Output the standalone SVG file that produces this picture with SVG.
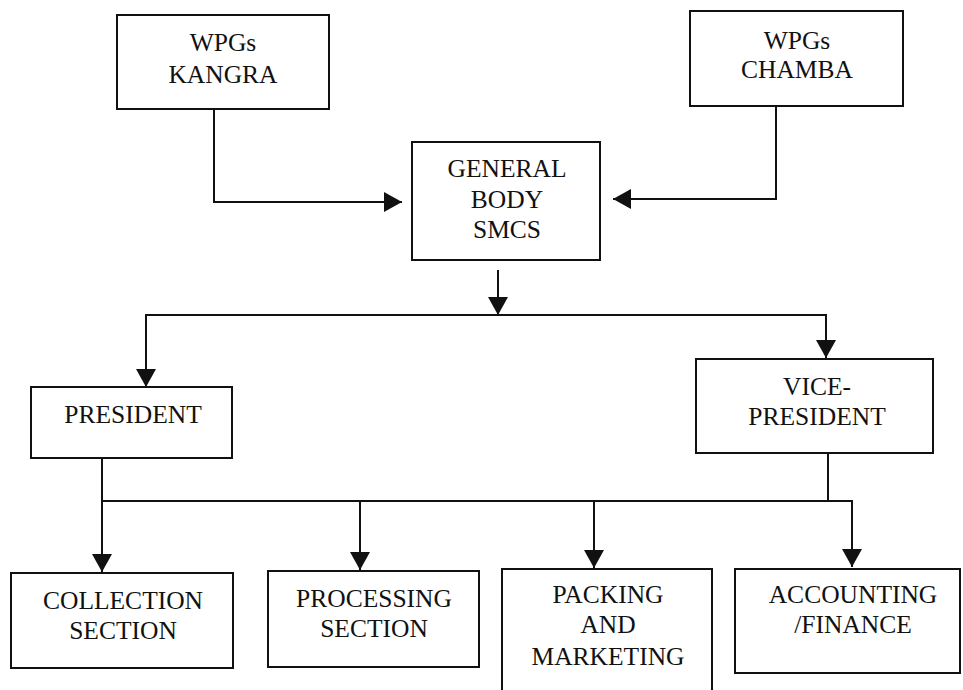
<svg xmlns="http://www.w3.org/2000/svg" width="963" height="690" viewBox="0 0 963 690">
<style>
.box{fill:#fff;stroke:#111;stroke-width:2}
.lbl{font-family:"Liberation Serif","Times New Roman",serif;font-size:25.5px;fill:#111;text-anchor:middle}
.con{fill:none;stroke:#111;stroke-width:2}
</style>
<defs>
<marker id="ah" markerUnits="userSpaceOnUse" markerWidth="18" markerHeight="20" refX="18" refY="10" orient="auto" viewBox="0 0 18 20">
<path d="M0,0 L18,10 L0,20 Z" fill="#111"/>
</marker>
</defs>
<rect width="963" height="690" fill="#fff"/>
<g id="connectors">
<path class="con" d="M214,109 V202 H402" marker-end="url(#ah)"/>
<path class="con" d="M776,106 V199 H613" marker-end="url(#ah)"/>
<path class="con" d="M498,270 V315" marker-end="url(#ah)"/>
<path class="con" d="M498,315 H146 V387" marker-end="url(#ah)"/>
<path class="con" d="M498,315 H826 V358" marker-end="url(#ah)"/>
<path class="con" d="M102,458 V572" marker-end="url(#ah)"/>
<path class="con" d="M102,501 H852 V567" marker-end="url(#ah)"/>
<path class="con" d="M828,453 V501"/>
<path class="con" d="M360,501 V570" marker-end="url(#ah)"/>
<path class="con" d="M594,501 V568" marker-end="url(#ah)"/>
</g>
<g id="kangra">
<rect class="box" x="117" y="15" width="212" height="94"/>
<text class="lbl" x="223" y="51">WPGs</text>
<text class="lbl" x="223" y="83">KANGRA</text>
</g>
<g id="chamba">
<rect class="box" x="690" y="11" width="213" height="95"/>
<text class="lbl" x="797" y="49">WPGs</text>
<text class="lbl" x="797" y="78">CHAMBA</text>
</g>
<g id="general-body">
<rect class="box" x="412" y="142" width="188" height="118"/>
<text class="lbl" x="507" y="177">GENERAL</text>
<text class="lbl" x="507" y="208">BODY</text>
<text class="lbl" x="507" y="238">SMCS</text>
</g>
<g id="president">
<rect class="box" x="31" y="387" width="201" height="71"/>
<text class="lbl" x="133" y="423">PRESIDENT</text>
</g>
<g id="vice-president">
<rect class="box" x="696" y="359" width="237" height="94"/>
<text class="lbl" x="817" y="395">VICE-</text>
<text class="lbl" x="817" y="425">PRESIDENT</text>
</g>
<g id="collection">
<rect class="box" x="11" y="573" width="222" height="95"/>
<text class="lbl" x="123" y="609">COLLECTION</text>
<text class="lbl" x="123" y="639">SECTION</text>
</g>
<g id="processing">
<rect class="box" x="268" y="571" width="211" height="96"/>
<text class="lbl" x="374" y="607">PROCESSING</text>
<text class="lbl" x="374" y="637">SECTION</text>
</g>
<g id="packing">
<rect class="box" x="502" y="569" width="210" height="130"/>
<text class="lbl" x="608" y="603">PACKING</text>
<text class="lbl" x="608" y="633">AND</text>
<text class="lbl" x="608" y="665">MARKETING</text>
</g>
<g id="accounting">
<rect class="box" x="735" y="569" width="225" height="104"/>
<text class="lbl" x="853" y="603">ACCOUNTING</text>
<text class="lbl" x="853" y="633">/FINANCE</text>
</g>
</svg>
